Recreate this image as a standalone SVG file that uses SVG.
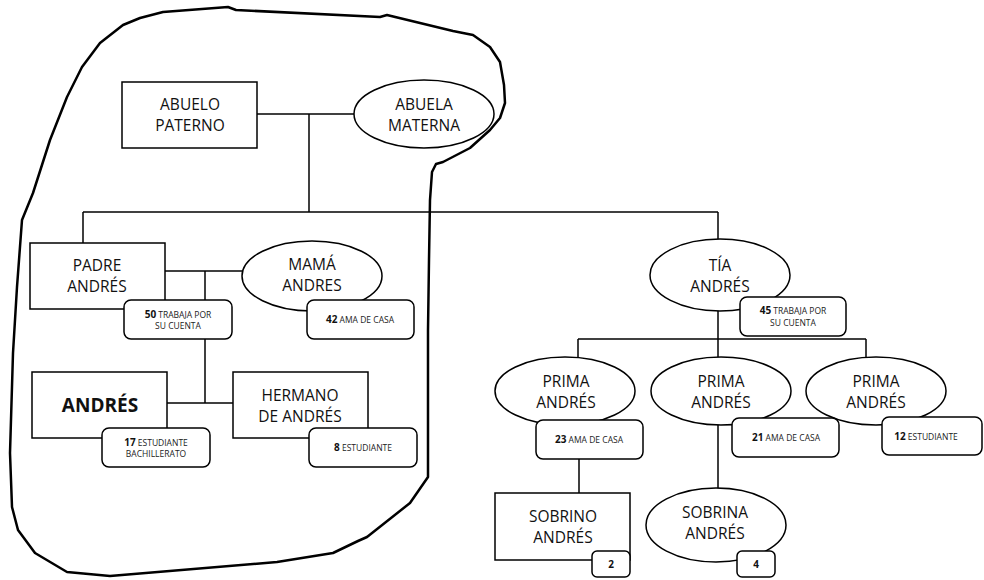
<svg xmlns="http://www.w3.org/2000/svg" width="984" height="580" viewBox="0 0 984 580">
<style>
.s{fill:#fff;stroke:#000;stroke-width:1.5}
.b{fill:#fff;stroke:#000;stroke-width:1.5}
.t{font-family:"Open Sans","Liberation Sans",sans-serif;font-size:15.5px;text-anchor:middle;fill:#111}
.tb{font-family:"Open Sans","Liberation Sans",sans-serif;font-size:19px;font-weight:bold;text-anchor:middle;fill:#111}
.m{font-family:"Open Sans","Liberation Sans",sans-serif;font-size:8.5px;text-anchor:middle;fill:#222}
.m tspan.n{font-size:10px;font-weight:bold;fill:#111}
.c line{stroke:#000;stroke-width:1.5}
</style>
<rect width="984" height="580" fill="#fff"/>
<path d="M163,12 L228,7 L236,10 L380,17 L387,15 L453,31 L473,35 L490,47 L500,62 L504,85 L505,103 L500,118 L490,130 L470,148 L443,162 L436,164 L432,172 L430,200 L429,260 L428,330 L428,400 L428,477 L410,503 L367,537 L358,541 L333,553 L277,562 L110,576 L67,572 L35,553 L18,530 L12,507 L10,453 L13,353 L17,287 L22,220 L33,193 L50,140 L67,97 L82,67 L100,43 L123,25 L140,18 Z" fill="none" stroke="#000" stroke-width="2.5" stroke-linejoin="round"/>
<g class="c">
<line x1="257" y1="114" x2="354" y2="114"/>
<line x1="309" y1="114" x2="309" y2="212"/>
<line x1="83" y1="212" x2="718" y2="212"/>
<line x1="83" y1="212" x2="83" y2="243"/>
<line x1="718" y1="212" x2="718" y2="239"/>
<line x1="165" y1="271" x2="242" y2="271"/>
<line x1="205" y1="271" x2="205" y2="403"/>
<line x1="167" y1="403" x2="233" y2="403"/>
<line x1="718" y1="310" x2="718" y2="357"/>
<line x1="578" y1="339" x2="866" y2="339"/>
<line x1="578" y1="339" x2="578" y2="357"/>
<line x1="866" y1="339" x2="866" y2="357"/>
<line x1="579" y1="459" x2="579" y2="493"/>
<line x1="718" y1="424" x2="718" y2="488"/>
</g>
<g id="abuelo"><rect class="s" x="122" y="82" width="135" height="66"/><text class="t" x="190" y="110">ABUELO</text><text class="t" x="190" y="131">PATERNO</text></g>
<g id="abuela"><ellipse class="s" cx="424" cy="114" rx="70" ry="34"/><text class="t" x="424" y="110">ABUELA</text><text class="t" x="424" y="131">MATERNA</text></g>
<g id="padre"><rect class="s" x="30" y="243" width="135" height="66"/><text class="t" x="97" y="271">PADRE</text><text class="t" x="97" y="292">ANDRÉS</text></g>
<g id="mama"><ellipse class="s" cx="312" cy="276" rx="70" ry="35"/><text class="t" x="312" y="270">MAMÁ</text><text class="t" x="312" y="291">ANDRES</text></g>
<g id="padre-info"><rect class="b" x="124" y="300" width="108" height="39" rx="7"/><text class="m" x="178" y="318"><tspan class="n">50</tspan> TRABAJA POR</text><text class="m" x="178" y="329">SU CUENTA</text></g>
<g id="mama-info"><rect class="b" x="307" y="300" width="107" height="39" rx="7"/><text class="m" x="360" y="323"><tspan class="n">42</tspan> AMA DE CASA</text></g>
<g id="andres"><rect class="s" x="32" y="372" width="135" height="66"/><text class="tb" x="100" y="412">ANDRÉS</text></g>
<g id="hermano"><rect class="s" x="233" y="372" width="135" height="66"/><text class="t" x="300" y="401">HERMANO</text><text class="t" x="300" y="422">DE ANDRÉS</text></g>
<g id="andres-info"><rect class="b" x="102" y="428" width="108" height="39" rx="7"/><text class="m" x="156" y="446"><tspan class="n">17</tspan> ESTUDIANTE</text><text class="m" x="156" y="457">BACHILLERATO</text></g>
<g id="hermano-info"><rect class="b" x="309" y="428" width="108" height="39" rx="7"/><text class="m" x="363" y="451"><tspan class="n">8</tspan> ESTUDIANTE</text></g>
<g id="tia"><ellipse class="s" cx="720" cy="275" rx="70" ry="36"/><text class="t" x="720" y="271">TÍA</text><text class="t" x="720" y="292">ANDRÉS</text></g>
<g id="tia-info"><rect class="b" x="740" y="297" width="106" height="39" rx="7"/><text class="m" x="793" y="314"><tspan class="n">45</tspan> TRABAJA POR</text><text class="m" x="793" y="326">SU CUENTA</text></g>
<g id="prima1"><ellipse class="s" cx="565" cy="391" rx="70" ry="34"/><text class="t" x="566" y="387">PRIMA</text><text class="t" x="566" y="408">ANDRÉS</text></g>
<g id="prima2"><ellipse class="s" cx="721" cy="391" rx="70" ry="34"/><text class="t" x="721" y="387">PRIMA</text><text class="t" x="721" y="408">ANDRÉS</text></g>
<g id="prima3"><ellipse class="s" cx="876" cy="391" rx="70" ry="34"/><text class="t" x="876" y="387">PRIMA</text><text class="t" x="876" y="408">ANDRÉS</text></g>
<g id="prima1-info"><rect class="b" x="536" y="420" width="107" height="39" rx="7"/><text class="m" x="589" y="443"><tspan class="n">23</tspan> AMA DE CASA</text></g>
<g id="prima2-info"><rect class="b" x="732" y="418" width="107" height="39" rx="7"/><text class="m" x="786" y="441"><tspan class="n">21</tspan> AMA DE CASA</text></g>
<g id="prima3-info"><rect class="b" x="882" y="417" width="100" height="38" rx="7"/><text class="m" x="926" y="440"><tspan class="n">12</tspan> ESTUDIANTE</text></g>
<g id="sobrino"><rect class="s" x="495" y="493" width="135" height="67"/><text class="t" x="563" y="522">SOBRINO</text><text class="t" x="563" y="543">ANDRÉS</text></g>
<g id="sobrino-info"><rect class="b" x="592" y="551" width="38" height="26" rx="5"/><text class="m" x="611" y="568"><tspan class="n">2</tspan></text></g>
<g id="sobrina"><ellipse class="s" cx="716" cy="525" rx="70" ry="37"/><text class="t" x="715" y="518">SOBRINA</text><text class="t" x="715" y="539">ANDRÉS</text></g>
<g id="sobrina-info"><rect class="b" x="737" y="551" width="38" height="26" rx="5"/><text class="m" x="756" y="568"><tspan class="n">4</tspan></text></g>
</svg>
